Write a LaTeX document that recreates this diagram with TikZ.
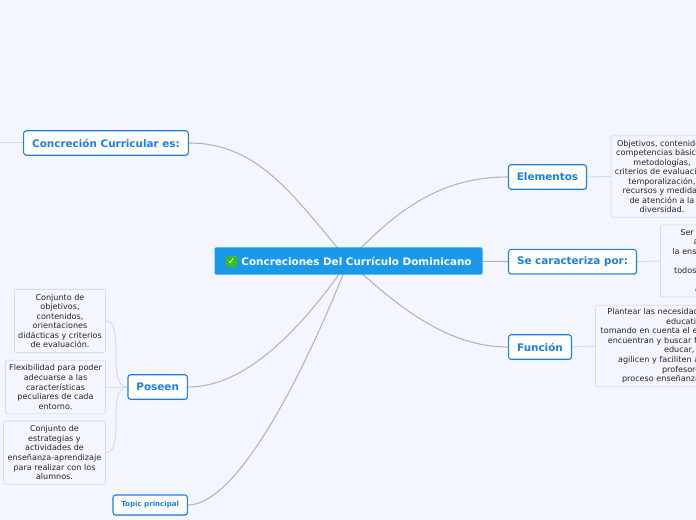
\documentclass[tikz,border=0pt]{standalone}
\usepackage{fontspec}
\setmainfont{DejaVu Sans}
\usetikzlibrary{backgrounds,shadows}
\definecolor{pagebg}{HTML}{F4F6FF}
\definecolor{topicblue}{HTML}{1B7FE3}
\definecolor{hubblue}{HTML}{1A98EA}
\definecolor{linkgrey}{HTML}{B4B4B4}
\definecolor{leafgrey}{HTML}{DADCE4}
\definecolor{okgreen}{HTML}{3DBB22}
\newcommand{\ind}[1]{\hspace*{#1pt}}

\begin{document}
\begin{tikzpicture}[x=0.75pt,y=-0.75pt,
 hub/.style={fill=hubblue,rounded corners=1.5pt,minimum width=201pt,minimum height=20.6pt,inner sep=0pt,
  text=white,font=\fontsize{7.8}{10}\selectfont\bfseries},
 topic/.style={draw=topicblue,line width=0.8pt,fill=white,rounded corners=2pt,inner sep=0pt,minimum height=18.4pt,
  text=topicblue,font=\fontsize{7.8}{10}\selectfont\bfseries,
  drop shadow={shadow xshift=0.3pt,shadow yshift=-0.7pt,opacity=0.3,fill=topicblue}},
 leaf/.style={draw=leafgrey,line width=0.6pt,fill=pagebg,rounded corners=1.5pt,inner sep=0pt,align=center,
  text=black!85,font=\fontsize{6.05}{7.15}\selectfont},
 link/.style={draw=linkgrey,line width=0.8pt},
 leaflink/.style={draw=leafgrey,line width=0.75pt}]
\useasboundingbox (0,0) rectangle (696,520);
\clip (0,0) rectangle (696,520);

\node[hub] (cen) at (348.5,261) {\hspace*{12pt}Concreciones Del Currículo Dominicano};
\node[fill=okgreen,rounded corners=1pt,minimum size=8.6pt,inner sep=0pt,text=white,font=\fontsize{7}{7}\selectfont] (chk) at (231.5,261.5) {✓};

\node[topic,minimum width=123.5pt] (conc) at (106,143) {Concreción Curricular es:};
\node[topic,minimum width=58.5pt] (elem) at (547.5,177) {Elementos};
\node[topic,minimum width=96pt] (car) at (572.5,261.7) {Se caracteriza por:};
\node[topic,minimum width=47.2pt] (fun) at (540,347) {Función};
\node[topic,minimum width=44.6pt] (pos) at (157.7,387) {Poseen};
\node[topic,minimum width=55.8pt,minimum height=15pt,font=\fontsize{5.3}{8}\selectfont\bfseries] (tp) at (150.2,505) {Topic principal};
\coordinate (off) at (0,143);

\node[leaf,minimum width=76.5pt,minimum height=61pt] (l1) at (662,176.5) {Objetivos, contenidos,\\competencias básicas,\\metodologías,\\criterios de evaluación,\\temporalización,\\recursos y medidas\\de atención a la\\diversidad.};
\node[leaf,anchor=west,align=left,text width=60pt,minimum height=54pt] (l2) at (660,261) {\ind{15}Ser\\\ind{25}a\\\ind{9}la enseñanza\\\mbox{}\\\ind{10.3}todos\\\mbox{}\\\ind{26}e};
\node[leaf,anchor=west,align=left,text width=130pt,minimum height=61pt] (l3) at (595,346) {\ind{9}Plantear las necesidades\\\ind{53}educativas\\\ind{4}tomando en cuenta el entorno\\\ind{9.3}encuentran y buscar formas\\\ind{51.5}educar,\\\ind{17}agilicen y faciliten a\\\ind{50}profesores\\\ind{20}proceso enseñanza};

\node[leaf,minimum width=68.2pt,minimum height=47.4pt] (p1) at (60,321) {Conjunto de\\objetivos,\\contenidos,\\orientaciones\\didácticas y criterios\\de evaluación.};
\node[leaf,minimum width=75pt,minimum height=40.2pt] (p2) at (55.5,387) {Flexibilidad para poder\\adecuarse a las\\características\\peculiares de cada\\entorno.};
\node[leaf,minimum width=76.5pt,minimum height=47.4pt] (p3) at (54.5,452.7) {Conjunto de\\estrategias y\\actividades de\\enseñanza-aprendizaje\\para realizar con los\\alumnos.};

\begin{scope}[on background layer]
\fill[pagebg] (0,0) rectangle (696,520);
\draw[link] (conc.east) .. controls +(70,0) and +(-55,-65) .. (cen.center);
\draw[link] (elem.west) .. controls +(-63,0) and +(52,-56) .. (cen.center);
\draw[link] (fun.west) .. controls +(-58,0) and +(52,49) .. (cen.center);
\draw[link] (pos.east) .. controls +(58,0) and +(-48,69) .. (cen.center);
\draw[link] (tp.east) .. controls +(45,0) and +(-53,134) .. (cen.center);
\draw[link] (car) -- (cen);
\draw[leaflink] (conc.west) -- (off);
\draw[leaflink] (elem.east) -- (l1.west);
\draw[leaflink] (car.east) -- (l2.west);
\draw[leaflink] (fun.east) -- (l3.west);
\draw[leaflink] (pos.west) .. controls +(-22,0) and +(20,0) .. (p1.east);
\draw[leaflink] (pos.west) -- (p2.east);
\draw[leaflink] (pos.west) .. controls +(-22,0) and +(20,0) .. (p3.east);
\end{scope}
\end{tikzpicture}
\end{document}
